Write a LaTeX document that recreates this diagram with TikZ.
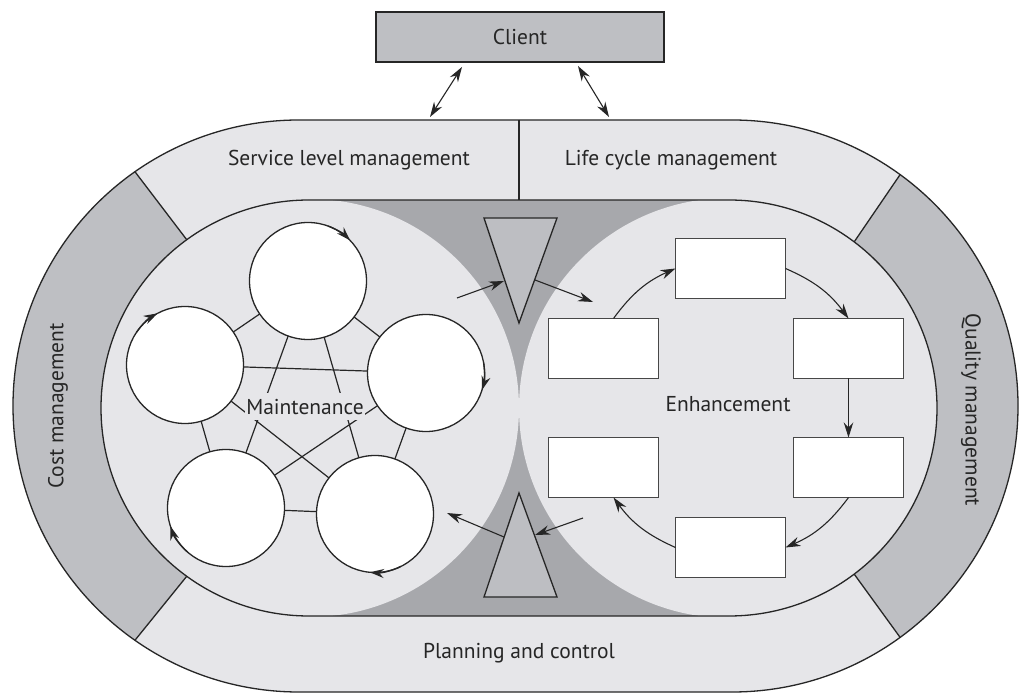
\documentclass[tikz,border=0pt]{standalone}
\usepackage{fontspec}
\setmainfont{PT Sans}
\usetikzlibrary{arrows.meta}
\definecolor{paleface}{RGB}{230,230,233}
\definecolor{bandshade}{RGB}{190,191,195}
\definecolor{coreshade}{RGB}{167,168,172}
\definecolor{wedgeshade}{RGB}{189,190,194}
\definecolor{inkline}{RGB}{38,38,38}
\newcommand\bandfont{\fontsize{21.5}{24}\selectfont}
\begin{document}
\begin{tikzpicture}[x=1pt,y=1pt,
  outline/.style={draw=inkline,line width=1.3pt},
  lbl/.style={font=\bandfont,text=inkline,inner sep=1pt},
  ring/.style={circle,draw=inkline,line width=1.3pt,fill=white,minimum size=117pt,inner sep=0pt,outer sep=0pt},
  slot/.style={rectangle,draw=inkline!85,line width=1.3pt,fill=white,minimum width=110pt,minimum height=60pt,inner sep=0pt,outer sep=0pt},
  tip/.style={-{Stealth[length=15pt,width=9.5pt]},line width=1.1pt,draw=inkline},
  twotip/.style={{Stealth[length=15pt,width=9.5pt]}-{Stealth[length=15pt,width=9.5pt]},line width=1.1pt,draw=inkline},
  spin/.style={-{Stealth[length=14pt,width=9pt]},line width=1.3pt,draw=inkline},
  link/.style={draw=inkline,line width=1.2pt},
]
\useasboundingbox (0,0) rectangle (1024,693);
\fill[white] (0,0) rectangle (1024,693);

% outer ring body
\fill[paleface] (299,573) -- (732,573) arc[start angle=90,end angle=-90,radius=286]
  -- (299,1) arc[start angle=270,end angle=90,radius=286] -- cycle;

% cost and quality segments of the ring
\fill[bandshade] ([shift={(299,287)}]125:286) arc[start angle=125,end angle=235,radius=286]
  -- ([shift={(309,285)}]234:208) arc[start angle=234,end angle=126,radius=208] -- cycle;
\fill[bandshade] ([shift={(732,287)}]54:286) arc[start angle=54,end angle=-54,radius=286]
  -- ([shift={(729,285)}]-53:208) arc[start angle=-53,end angle=53,radius=208] -- cycle;

% core between the two process areas
\fill[coreshade] (309,493) -- (729,493) arc[start angle=90,end angle=-90,radius=208]
  -- (309,77) arc[start angle=270,end angle=90,radius=208] -- cycle;
\begin{scope}
  \clip (309,493) -- (729,493) arc[start angle=90,end angle=-90,radius=208]
    -- (309,77) arc[start angle=270,end angle=90,radius=208] -- cycle;
  \fill[paleface] (310,285) circle[radius=209];
  \fill[paleface] (729,285) circle[radius=210];
\end{scope}

% segment dividers
\draw[outline] ([shift={(299,287)}]125:286) -- ([shift={(309,285)}]126:208);
\draw[outline] ([shift={(299,287)}]235:286) -- ([shift={(309,285)}]234:208);
\draw[outline] ([shift={(732,287)}]54:286) -- ([shift={(729,285)}]53:208);
\draw[outline] ([shift={(732,287)}]-54:286) -- ([shift={(729,285)}]-53:208);
\draw[outline] (519,573) -- (519,493);

% ring outlines
\draw[outline] (299,573) -- (732,573) arc[start angle=90,end angle=-90,radius=286]
  -- (299,1) arc[start angle=270,end angle=90,radius=286] -- cycle;
\draw[outline] (309,493) -- (729,493) arc[start angle=90,end angle=-90,radius=208]
  -- (309,77) arc[start angle=270,end angle=90,radius=208] -- cycle;

% hand-over wedges
\draw[outline,fill=wedgeshade] (484,475) -- (557,475) -- (519,370) -- cycle;
\draw[outline,fill=wedgeshade] (519,200) -- (557,96) -- (484,96) -- cycle;

% ring labels
\node[lbl] (slm) at (349,533) {Service level management};
\node[lbl] (lcm) at (671,533) {Life cycle management};
\node[lbl] (pac) at (519,40) {Planning and control};
\node[lbl,rotate=90] (cost) at (58,287) {Cost management};
\node[lbl,rotate=-90] (qual) at (971,283) {Quality management};

% client
\node[rectangle,draw=inkline,line width=1.3pt,fill=bandshade,minimum width=288pt,minimum height=50pt,font=\bandfont,text=inkline] (client) at (520,656) {Client};
\coordinate (cl1) at (462,626);
\coordinate (cl2) at (430,576);
\coordinate (cr1) at (578,627);
\coordinate (cr2) at (609,576);
\draw[twotip] (cl1) -- (cl2);
\draw[twotip] (cr1) -- (cr2);

% maintenance cycle
\node[ring] (m1) at (308,412) {};
\node[ring] (m2) at (426,320) {};
\node[ring] (m3) at (375,179) {};
\node[ring] (m4) at (226,185) {};
\node[ring] (m5) at (185,328) {};
\foreach \a/\b in {m1/m2,m2/m3,m3/m4,m4/m5,m5/m1,m1/m3,m1/m4,m2/m4,m2/m5,m3/m5}
  \draw[link] (\a) -- (\b);
\node[lbl,fill=paleface,inner sep=1pt,minimum height=27pt] (maint) at (305,286) {Maintenance};
\draw[spin] (m1.70) arc[start angle=70,end angle=44,radius=58.5];
\draw[spin] (m2.10) arc[start angle=10,end angle=-17,radius=58.5];
\draw[spin] (m3.-64) arc[start angle=-64,end angle=-95,radius=58.5];
\draw[spin] (m4.229) arc[start angle=229,end angle=198,radius=58.5];
\draw[spin] (m5.146) arc[start angle=146,end angle=118,radius=58.5];

% enhancement cycle
\node[slot] (e1) at (730.5,424.5) {};
\node[slot] (e2) at (848.5,344.5) {};
\node[slot] (e3) at (848.5,225.5) {};
\node[slot] (e4) at (730.5,145.5) {};
\node[slot] (e5) at (603.5,225.5) {};
\node[slot] (e6) at (603.5,344.5) {};
\node[lbl] (enh) at (728,289) {Enhancement};
\draw[tip] ([xshift=10pt]e6.north) to[bend left=15] (e1.west);
\draw[tip] (e1.east) to[bend left=15] (e2.north);
\draw[tip] (e2.south) -- (e3.north);
\draw[tip] (e3.south) to[bend left=15] (e4.east);
\draw[tip] (e4.west) to[bend left=15] ([xshift=10pt]e5.south);

% transfers through the wedges
\coordinate (ta1) at (457,395);
\coordinate (ta2) at (504,412);
\coordinate (tb1) at (535,413);
\coordinate (tb2) at (593,391);
\coordinate (tc1) at (583,175);
\coordinate (tc2) at (535,158);
\coordinate (td1) at (504,156);
\coordinate (td2) at (447,180);
\draw[tip] (ta1) -- (ta2);
\draw[tip] (tb1) -- (tb2);
\draw[tip] (tc1) -- (tc2);
\draw[tip] (td1) -- (td2);
\end{tikzpicture}
\end{document}
